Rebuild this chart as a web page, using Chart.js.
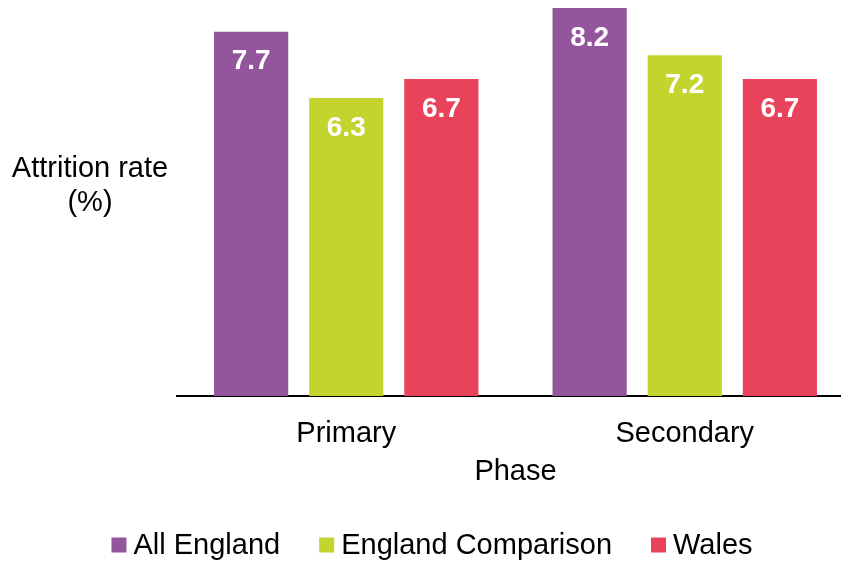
<!DOCTYPE html>
<html>
<head>
<meta charset="utf-8">
<script src="https://cdn.jsdelivr.net/npm/chart.js@4/dist/chart.umd.min.js"></script>
<style>
  body { margin: 0; background: #fff; overflow: hidden; }
  #wrap { width: 841px; height: 562px; overflow: hidden; }
</style>
</head>
<body>
<div id="wrap"><canvas id="attritionChart" width="854" height="562"></canvas></div>
<script>
const phases = ["Primary", "Secondary"];
const allEngland = [7.7, 8.2];
const englandComparison = [6.3, 7.2];
const wales = [6.7, 6.7];
const seriesNames = ["All England", "England Comparison", "Wales"];
const seriesColours = ["#93559C", "#C4D42F", "#E8435B"];
const yTitleLines = ["Attrition rate", "(%)"];

const fontFamily = '"Liberation Sans", Arial, sans-serif';

// y-axis title written horizontally to the left of the plot
const yTitlePlugin = {
    id: 'yTitle',
    afterDraw(chart) {
        const ctx = chart.ctx;
        ctx.save();
        ctx.font = '29px ' + fontFamily;
        ctx.fillStyle = '#000';
        ctx.textAlign = 'center';
        ctx.textBaseline = 'middle';
        yTitleLines.forEach((line, i) => {
            ctx.fillText(line, 90, 169 + i * 34);
        });
        ctx.restore();
    }
};

// white value labels inside the top of each bar
const barLabelPlugin = {
    id: 'barLabels',
    afterDatasetsDraw(chart) {
        const ctx = chart.ctx;
        ctx.save();
        ctx.font = 'bold 28px ' + fontFamily;
        ctx.fillStyle = '#fff';
        ctx.textAlign = 'center';
        ctx.textBaseline = 'middle';
        chart.data.datasets.forEach((ds, di) => {
            chart.getDatasetMeta(di).data.forEach((bar, i) => {
                ctx.fillText(ds.data[i].toFixed(1), bar.x, bar.y + 30);
            });
        });
        ctx.restore();
    }
};

// legend with small square swatches close to the text
const legendPlugin = {
    id: 'squareLegend',
    afterDraw(chart) {
        const ctx = chart.ctx;
        ctx.save();
        ctx.font = '29px ' + fontFamily;
        ctx.textBaseline = 'middle';
        ctx.textAlign = 'left';
        const box = 15, gapText = 7, gapItem = 39, y = 545;
        let total = 0;
        chart.data.datasets.forEach((ds, i) => {
            total += box + gapText + ctx.measureText(ds.label).width;
            if (i < chart.data.datasets.length - 1) total += gapItem;
        });
        let x = 432 - total / 2;
        chart.data.datasets.forEach(ds => {
            ctx.fillStyle = ds.backgroundColor;
            ctx.fillRect(x, y - box / 2, box, box);
            x += box + gapText;
            ctx.fillStyle = '#000';
            ctx.fillText(ds.label, x, y + 1);
            x += ctx.measureText(ds.label).width + gapItem;
        });
        ctx.restore();
    }
};

const ctx = document.getElementById('attritionChart').getContext('2d');
const attritionChart = new Chart(ctx, {
    type: 'bar',
    data: {
        labels: phases,
        datasets: [allEngland, englandComparison, wales].map((values, i) => ({
            label: seriesNames[i],
            data: values,
            backgroundColor: seriesColours[i],
            borderWidth: 0,
            barPercentage: 0.78,
            categoryPercentage: 0.843
        }))
    },
    options: {
        responsive: false,
        animation: false,
        devicePixelRatio: 1,
        layout: {
            padding: { left: 177, right: 0, top: 8, bottom: 73 }
        },
        plugins: {
            legend: { display: false },
            tooltip: { enabled: false }
        },
        scales: {
            x: {
                afterFit(scale) { scale.height = 93; },
                grid: { display: false, drawTicks: false },
                border: { display: true, color: '#000', width: 2 },
                ticks: {
                    color: '#000',
                    padding: 21,
                    font: { family: fontFamily, size: 29 }
                },
                title: {
                    display: true,
                    text: 'Phase',
                    color: '#000',
                    padding: { top: 0, bottom: 0 },
                    font: { family: fontFamily, size: 29 }
                }
            },
            y: {
                display: false,
                min: 0,
                max: 8.2
            }
        }
    },
    plugins: [yTitlePlugin, barLabelPlugin, legendPlugin]
});
</script>
</body>
</html>
